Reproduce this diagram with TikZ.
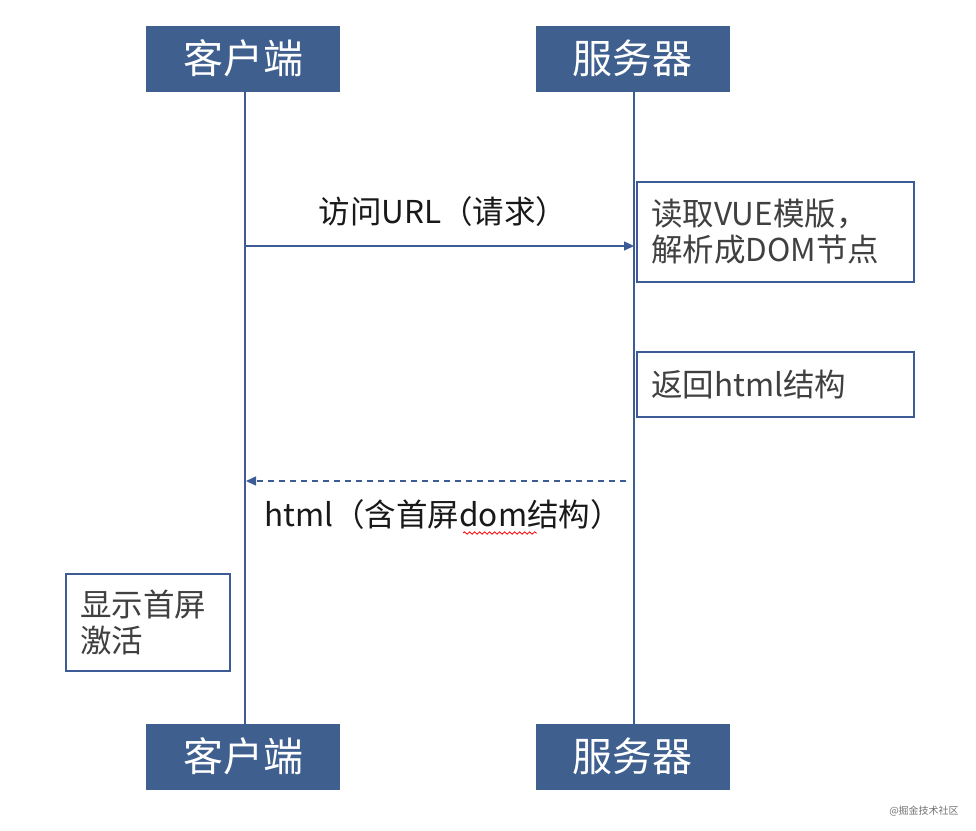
\documentclass[tikz,border=0pt]{standalone}
\usepackage{fontspec}
\setmainfont{Noto Sans CJK SC}
\usetikzlibrary{arrows.meta,decorations.pathmorphing}
\definecolor{hdr}{HTML}{3F5F8F}
\definecolor{ln}{HTML}{3D5C96}
\definecolor{txt}{HTML}{404040}
\tikzset{
  hdrbox/.style={fill=hdr, draw=hdr, minimum width=193pt, minimum height=65pt, text=white, font=\fontsize{40}{44}\selectfont, inner sep=0pt},
  life/.style={draw=ln, line width=1.5pt},
  msg/.style={draw=ln, line width=1.5pt, -{Triangle[length=10pt,width=9pt]}},
  reply/.style={msg, dash pattern=on 6pt off 5pt},
  notebox/.style={draw=ln, line width=2pt, fill=white, anchor=north west, align=left, text=txt, font=\fontsize{31.5}{36}\selectfont, inner xsep=14pt, inner ysep=0pt},
  lbl/.style={text=black!90, font=\fontsize{31.5}{36}\selectfont, inner sep=0pt}
}
\begin{document}
\begin{tikzpicture}[x=1pt,y=-1pt]
\useasboundingbox[fill=white] (0,0) rectangle (976,830);
% headers
\node[hdrbox] (ct) at (243,58.5) {客户端};
\node[hdrbox] (st) at (632.5,58.5) {服务器};
\node[hdrbox] (cb) at (243,756.5) {客户端};
\node[hdrbox] (sb) at (632.5,756.5) {服务器};
% lifelines
\coordinate (cl1) at (245,91);
\coordinate (cl2) at (245,724);
\coordinate (sl1) at (634,91);
\coordinate (sl2) at (634,724);
\draw[life] (cl1) -- (cl2);
\draw[life] (sl1) -- (sl2);
% notes
\node[notebox, minimum width=277pt, minimum height=100pt, text width=249pt] (n1) at (636,181) {读取VUE模版，\\解析成DOM节点};
\node[notebox, minimum width=277pt, minimum height=65pt, text width=249pt] (n2) at (636,351) {返回html结构};
\node[notebox, minimum width=164pt, minimum height=97pt, text width=136pt] (n3) at (65,573) {显示首屏\\激活};
% messages
\coordinate (m1s) at (245,246);
\coordinate (m1e) at (634,246);
\draw[msg] (m1s) -- (m1e);
\node[lbl] (l1) at (443,212) {访问URL（请求）};
\coordinate (m2s) at (626,481);
\coordinate (m2e) at (246,481);
\draw[reply] (m2s) -- (m2e);
\node[lbl] (l2) at (443,515) {html（含首屏dom结构）};
\draw[red, line width=0.8pt, decorate, decoration={snake, amplitude=1.2pt, segment length=5pt}] (463,533) -- (537,533);
% watermark
\node[text=black!55, font=\fontsize{10}{12}\selectfont, inner sep=0pt] (wm) at (924,811) {@掘金技术社区};
\end{tikzpicture}
\end{document}
